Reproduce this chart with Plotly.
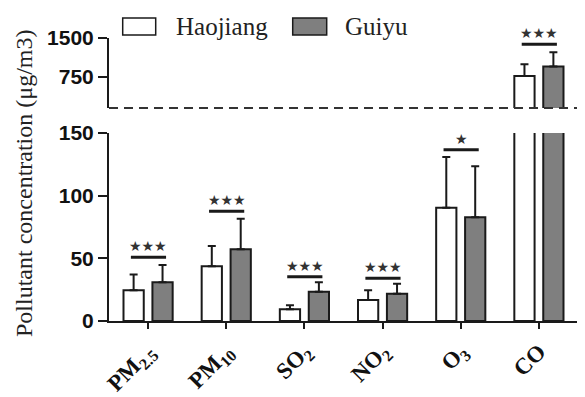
import plotly.graph_objects as go

# ---- data ----
categories = ["PM<sub>2.5</sub>", "PM<sub>10</sub>", "SO<sub>2</sub>", "NO<sub>2</sub>", "O<sub>3</sub>", "CO"]
haojiang_mean = [24.5, 43.6, 9.3, 16.8, 90.4, 769]
haojiang_sd = [12.7, 16.2, 3.2, 7.7, 40.5, 225]
guiyu_mean = [30.9, 57.2, 23.4, 21.8, 82.7, 948]
guiyu_sd = [13.8, 24.4, 7.5, 8.0, 40.7, 277]
sig_labels = ["***", "***", "***", "***", "*", "***"]
sig_height = [50.8, 87.5, 35.4, 34.1, 136.7, 1379]
lower_ticks = [0, 50, 100, 150]
upper_ticks = [750, 1500]

# ---- layout geometry (reference pixels; page body has an 8px margin) ----
OFF = 8
W, H = 585 - OFF, 397 - OFF
L, R, T, B = 109 - OFF, 578 - OFF, 38 - OFF, 321 - OFF
def px_x(p):
    return (p - OFF - L) / (R - L)
def px_y(p):
    return (B - (p - OFF)) / (B - T)

xs = list(range(len(categories)))
GRAY = "#7f7f7f"
INK = "#1a1a1a"

fig = go.Figure()
for yax in ["y", "y2"]:
    fig.add_trace(go.Bar(
        x=xs, y=haojiang_mean, yaxis=yax, name="Haojiang", showlegend=False,
        marker=dict(color="white", line=dict(color=INK, width=2)),
        error_y=dict(type="data", array=haojiang_sd, arrayminus=[0]*len(xs), symmetric=False,
                     color=INK, thickness=2, width=4),
        hoverinfo="skip"))
    fig.add_trace(go.Bar(
        x=xs, y=guiyu_mean, yaxis=yax, name="Guiyu", showlegend=False,
        marker=dict(color=GRAY, line=dict(color=INK, width=2)),
        error_y=dict(type="data", array=guiyu_sd, arrayminus=[0]*len(xs), symmetric=False,
                     color=INK, thickness=2, width=4),
        hoverinfo="skip"))

shapes = []
annotations = []
# significance bars
for i, (lab, h) in enumerate(zip(sig_labels, sig_height)):
    yref = "y2" if h > 150 else "y"
    shapes.append(dict(type="line", xref="x", yref=yref, x0=i - 0.22, x1=i + 0.23, y0=h, y1=h,
                       line=dict(color=INK, width=3)))
    annotations.append(dict(x=i + 0.005, y=h, xref="x", yref=yref, text=lab.replace("*", "★"),
                            showarrow=False, xanchor="center", yanchor="middle", yshift=11,
                            font=dict(family="DejaVu Sans", size=14, color="#333")))

# dashed break line
shapes.append(dict(type="line", xref="paper", yref="paper", x0=0, x1=1.0,
                   y0=px_y(108), y1=px_y(108), line=dict(color="#333", width=2, dash="9px,6px")))

# legend
shapes.append(dict(type="rect", xref="paper", yref="paper", x0=px_x(122.7), x1=px_x(155.7),
                   y0=px_y(35), y1=px_y(18), fillcolor="white", line=dict(color=INK, width=1.5)))
shapes.append(dict(type="rect", xref="paper", yref="paper", x0=px_x(292.7), x1=px_x(326.7),
                   y0=px_y(35), y1=px_y(18), fillcolor=GRAY, line=dict(color=INK, width=1.5)))
annotations.append(dict(x=px_x(174), y=px_y(26.5), xref="paper", yref="paper", text="Haojiang",
                        showarrow=False, xanchor="left", yanchor="middle",
                        font=dict(family="Liberation Serif", size=25, color="#222")))
annotations.append(dict(x=px_x(343), y=px_y(26.5), xref="paper", yref="paper", text="Guiyu",
                        showarrow=False, xanchor="left", yanchor="middle",
                        font=dict(family="Liberation Serif", size=25, color="#222")))
# y title
annotations.append(dict(x=px_x(24), y=px_y(184), xref="paper", yref="paper",
                        text="Pollutant concentration (μg/m3)", textangle=-90, showarrow=False,
                        xanchor="center", yanchor="middle",
                        font=dict(family="Liberation Serif", size=24, color="#222")))

tickfont_y = dict(family="Liberation Sans", size=21, color="#111", weight="bold")

fig.update_layout(
    width=W, height=H,
    margin=dict(l=L, r=W - R, t=T, b=H - B, pad=0),
    paper_bgcolor="white", plot_bgcolor="white",
    barmode="group", bargap=0.26, bargroupgap=0.3,
    showlegend=False,
    xaxis=dict(range=[-0.5, 5.5], tickmode="array", tickvals=xs, ticktext=categories,
               tickangle=-45, ticks="outside", ticklen=6, tickwidth=2, tickcolor=INK,
               showline=True, linecolor=INK, linewidth=2, showgrid=False, zeroline=False,
               tickfont=dict(family="Liberation Serif", size=23, color="#111", weight="bold"),
               automargin=False, anchor="y", fixedrange=True),
    yaxis=dict(domain=[0, px_y(133)], range=[0, 150], tickmode="array", tickvals=lower_ticks,
               ticks="outside", ticklen=9, tickwidth=2, tickcolor=INK,
               showline=True, linecolor=INK, linewidth=2, showgrid=False, zeroline=False,
               tickfont=tickfont_y, automargin=False, anchor="x"),
    yaxis2=dict(domain=[px_y(108), 1], range=[150, 1500], tickmode="array", tickvals=upper_ticks,
                ticks="outside", ticklen=9, tickwidth=2, tickcolor=INK,
                showline=True, linecolor=INK, linewidth=2, showgrid=False, zeroline=False,
                tickfont=tickfont_y, automargin=False, anchor="x"),
    shapes=shapes, annotations=annotations,
)

fig.write_html("out.html")
